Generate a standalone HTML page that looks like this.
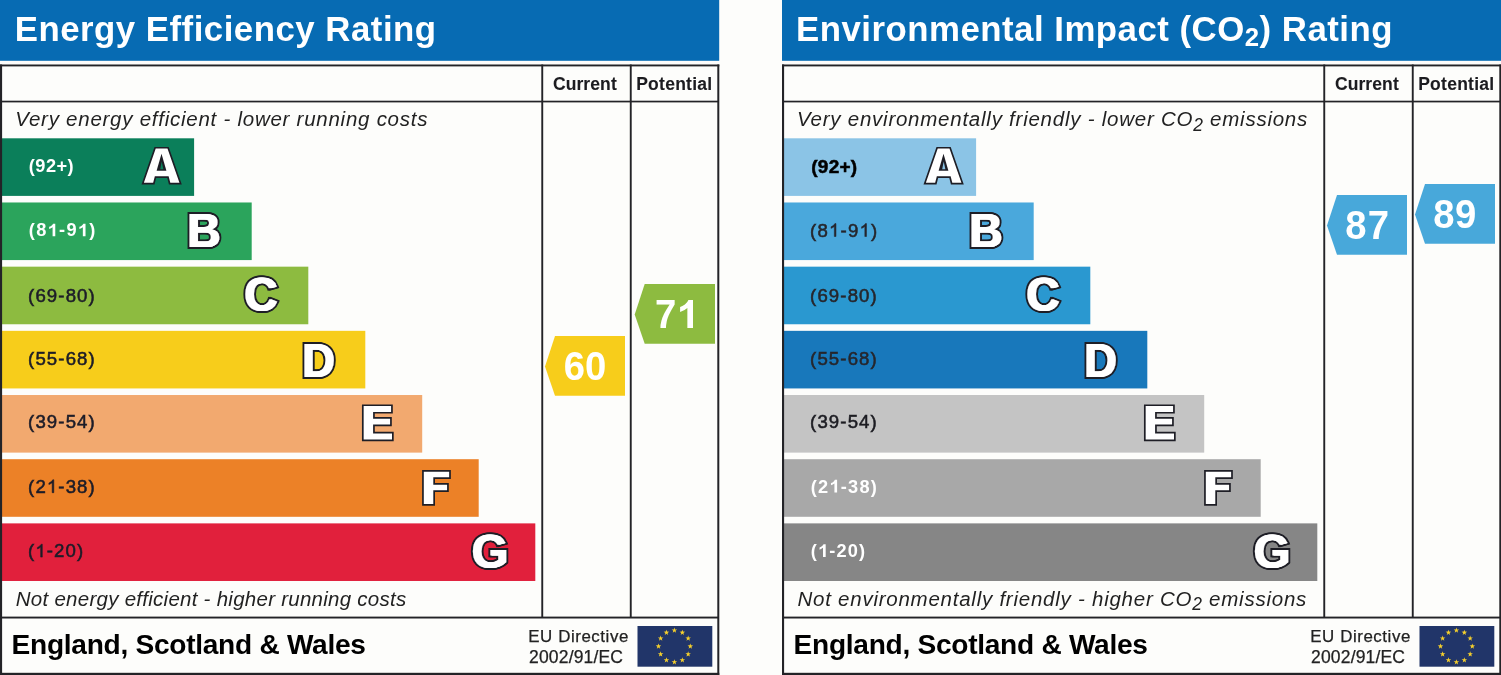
<!DOCTYPE html>
<html><head><meta charset="utf-8"><title>EPC</title>
<style>
html,body{margin:0;padding:0;background:#fdfdfb;}
body{width:1501px;height:675px;overflow:hidden;}
svg{display:block;will-change:transform;}
text{font-family:"Liberation Sans",sans-serif;white-space:pre;}
</style></head><body>
<svg width="1501" height="675" viewBox="0 0 1501 675">
<rect width="1501" height="675" fill="#fdfdfb"/>
<g transform="translate(0,0)">
<rect x="0" y="0" width="719.2" height="60.8" fill="#076bb3"/>
<rect x="1.5" y="138.30" width="192.6" height="57.6" fill="#0b7f5a"/>
<rect x="1.5" y="202.48" width="250.2" height="57.6" fill="#2ba45c"/>
<rect x="1.5" y="266.66" width="306.8" height="57.6" fill="#8dbb40"/>
<rect x="1.5" y="330.84" width="363.8" height="57.6" fill="#f7cd1b"/>
<rect x="1.5" y="395.02" width="420.7" height="57.6" fill="#f2a96f"/>
<rect x="1.5" y="459.20" width="477.2" height="57.6" fill="#ec8127"/>
<rect x="1.5" y="523.38" width="533.8" height="57.6" fill="#e1203c"/>
<g fill="#232327">
<rect x="0" y="64.5" width="719.3" height="1.9"/>
<rect x="0" y="672.8" width="719.3" height="2.2"/>
<rect x="0" y="64.5" width="2.1" height="610.5"/>
<rect x="717.3" y="64.5" width="2.0" height="610.5"/>
<rect x="541.3" y="64.5" width="1.9" height="553"/>
<rect x="629.8" y="64.5" width="1.9" height="553"/>
<rect x="0" y="100.7" width="719" height="1.7"/>
<rect x="0" y="616.6" width="719" height="1.9"/>
</g>
<path d="M155.1 147.75L168.1 147.75L180.6 183.55L169.6 183.55L167.95 177.1L155.5 177.1L153.85 183.55L142.7 183.55Z" fill="#fff" fill-rule="evenodd" stroke="#1e1e26" stroke-width="1.7" stroke-linejoin="miter"/>
<path d="M161.5 153.8L156.6 170.7L166.4 170.7Z" fill="#1e1e26"/><path d="M161.7 161.5L160.2 169.3L163.4 169.3Z" fill="#0b7f5a"/>
<g font-size="47.68" font-weight="bold" stroke-linejoin="miter" stroke-miterlimit="3"><text transform="translate(186.54,246.80) scale(0.9641,1)" fill="#1e1e26" stroke="#1e1e26" stroke-width="4.20">B</text><text transform="translate(187.44,246.80) scale(0.9641,1)" fill="#1e1e26" stroke="#1e1e26" stroke-width="4.20">B</text><text transform="translate(188.34,246.80) scale(0.9641,1)" fill="#1e1e26" stroke="#1e1e26" stroke-width="4.20">B</text><text transform="translate(186.54,246.80) scale(0.9641,1)" fill="#fff" stroke="#fff" stroke-width="0.20">B</text><text transform="translate(187.44,246.80) scale(0.9641,1)" fill="#fff" stroke="#fff" stroke-width="0.20">B</text><text transform="translate(188.34,246.80) scale(0.9641,1)" fill="#fff" stroke="#fff" stroke-width="0.20">B</text></g>
<g font-size="47.46" font-weight="bold" stroke-linejoin="miter" stroke-miterlimit="3"><text transform="translate(243.58,311.33) scale(0.9608,1)" fill="#1e1e26" stroke="#1e1e26" stroke-width="4.20">C</text><text transform="translate(244.48,311.33) scale(0.9608,1)" fill="#1e1e26" stroke="#1e1e26" stroke-width="4.20">C</text><text transform="translate(245.38,311.33) scale(0.9608,1)" fill="#1e1e26" stroke="#1e1e26" stroke-width="4.20">C</text><text transform="translate(243.58,311.33) scale(0.9608,1)" fill="#fff" stroke="#fff" stroke-width="0.20">C</text><text transform="translate(244.48,311.33) scale(0.9608,1)" fill="#fff" stroke="#fff" stroke-width="0.20">C</text><text transform="translate(245.38,311.33) scale(0.9608,1)" fill="#fff" stroke="#fff" stroke-width="0.20">C</text></g>
<g font-size="47.25" font-weight="bold" stroke-linejoin="miter" stroke-miterlimit="3"><text transform="translate(301.40,376.50) scale(0.9508,1)" fill="#1e1e26" stroke="#1e1e26" stroke-width="4.20">D</text><text transform="translate(302.30,376.50) scale(0.9508,1)" fill="#1e1e26" stroke="#1e1e26" stroke-width="4.20">D</text><text transform="translate(303.20,376.50) scale(0.9508,1)" fill="#1e1e26" stroke="#1e1e26" stroke-width="4.20">D</text><text transform="translate(301.40,376.50) scale(0.9508,1)" fill="#fff" stroke="#fff" stroke-width="0.20">D</text><text transform="translate(302.30,376.50) scale(0.9508,1)" fill="#fff" stroke="#fff" stroke-width="0.20">D</text><text transform="translate(303.20,376.50) scale(0.9508,1)" fill="#fff" stroke="#fff" stroke-width="0.20">D</text></g>
<path d="M362.8 405.25H391.95V412.75H373.95V417.85H390.95V425.35H373.95V432.55H392.85V440.35H362.8Z" fill="#fff" fill-rule="evenodd" stroke="#1e1e26" stroke-width="1.7" stroke-linejoin="miter"/>
<path d="M422.95 470.85H450.0V478.15H434.15V483.95H447.95V491.1H434.15V504.85H422.95Z" fill="#fff" fill-rule="evenodd" stroke="#1e1e26" stroke-width="1.7" stroke-linejoin="miter"/>
<g font-size="47.46" font-weight="bold" stroke-linejoin="miter" stroke-miterlimit="3"><text transform="translate(471.03,567.73) scale(0.9853,1)" fill="#1e1e26" stroke="#1e1e26" stroke-width="4.20">G</text><text transform="translate(471.93,567.73) scale(0.9853,1)" fill="#1e1e26" stroke="#1e1e26" stroke-width="4.20">G</text><text transform="translate(472.83,567.73) scale(0.9853,1)" fill="#1e1e26" stroke="#1e1e26" stroke-width="4.20">G</text><text transform="translate(471.03,567.73) scale(0.9853,1)" fill="#fff" stroke="#fff" stroke-width="0.20">G</text><text transform="translate(471.93,567.73) scale(0.9853,1)" fill="#fff" stroke="#fff" stroke-width="0.20">G</text><text transform="translate(472.83,567.73) scale(0.9853,1)" fill="#fff" stroke="#fff" stroke-width="0.20">G</text></g>
<polygon points="545.0,366.5 555.0,336.0 625.0,336.0 625.0,395.7 555.0,395.7" fill="#f7cd1b"/>
<polygon points="634.7,314.5 644.7,284.0 715.0,284.0 715.0,343.7 644.7,343.7" fill="#8dbb40"/>
<rect x="637.5" y="626" width="74.8" height="40.7" fill="#213569"/>
<polygon points="674.40,627.50 675.08,629.47 677.16,629.50 675.49,630.76 676.10,632.75 674.40,631.55 672.70,632.75 673.31,630.76 671.64,629.50 673.72,629.47" fill="#f6d02c"/><polygon points="682.35,629.63 683.03,631.60 685.11,631.63 683.44,632.89 684.05,634.88 682.35,633.68 680.65,634.88 681.26,632.89 679.59,631.63 681.67,631.60" fill="#f6d02c"/><polygon points="688.17,635.45 688.85,637.42 690.93,637.45 689.26,638.71 689.87,640.70 688.17,639.50 686.47,640.70 687.08,638.71 685.41,637.45 687.49,637.42" fill="#f6d02c"/><polygon points="690.30,643.40 690.98,645.37 693.06,645.40 691.39,646.66 692.00,648.65 690.30,647.45 688.60,648.65 689.21,646.66 687.54,645.40 689.62,645.37" fill="#f6d02c"/><polygon points="688.17,651.35 688.85,653.32 690.93,653.35 689.26,654.61 689.87,656.60 688.17,655.40 686.47,656.60 687.08,654.61 685.41,653.35 687.49,653.32" fill="#f6d02c"/><polygon points="682.35,657.17 683.03,659.14 685.11,659.17 683.44,660.43 684.05,662.42 682.35,661.22 680.65,662.42 681.26,660.43 679.59,659.17 681.67,659.14" fill="#f6d02c"/><polygon points="674.40,659.30 675.08,661.27 677.16,661.30 675.49,662.56 676.10,664.55 674.40,663.35 672.70,664.55 673.31,662.56 671.64,661.30 673.72,661.27" fill="#f6d02c"/><polygon points="666.45,657.17 667.13,659.14 669.21,659.17 667.54,660.43 668.15,662.42 666.45,661.22 664.75,662.42 665.36,660.43 663.69,659.17 665.77,659.14" fill="#f6d02c"/><polygon points="660.63,651.35 661.31,653.32 663.39,653.35 661.72,654.61 662.33,656.60 660.63,655.40 658.93,656.60 659.54,654.61 657.87,653.35 659.95,653.32" fill="#f6d02c"/><polygon points="658.50,643.40 659.18,645.37 661.26,645.40 659.59,646.66 660.20,648.65 658.50,647.45 656.80,648.65 657.41,646.66 655.74,645.40 657.82,645.37" fill="#f6d02c"/><polygon points="660.63,635.45 661.31,637.42 663.39,637.45 661.72,638.71 662.33,640.70 660.63,639.50 658.93,640.70 659.54,638.71 657.87,637.45 659.95,637.42" fill="#f6d02c"/><polygon points="666.45,629.63 667.13,631.60 669.21,631.63 667.54,632.89 668.15,634.88 666.45,633.68 664.75,634.88 665.36,632.89 663.69,631.63 665.77,631.60" fill="#f6d02c"/>
<text x="14.70" y="40.90" font-size="34.80" fill="#fff" font-weight="bold" letter-spacing="0.497">Energy Efficiency Rating</text>
<text x="15.30" y="126.20" font-size="20.50" fill="#222" font-style="italic" letter-spacing="0.743">Very energy efficient - lower running costs</text>
<text x="15.80" y="606.10" font-size="20.50" fill="#222" font-style="italic" letter-spacing="0.262">Not energy efficient - higher running costs</text>
<text x="552.90" y="90.10" font-size="17.50" fill="#1c1c20" font-weight="bold" stroke="#1c1c20" stroke-width="0.10" letter-spacing="0.105">Current</text>
<text x="636.20" y="90.10" font-size="17.50" fill="#1c1c20" font-weight="bold" stroke="#1c1c20" stroke-width="0.10" letter-spacing="0.258">Potential</text>
<text x="11.60" y="653.90" font-size="28.10" fill="#000" font-weight="bold" letter-spacing="-0.282">England, Scotland &amp; Wales</text>
<text x="528.30" y="642.10" font-size="16.90" fill="#222" stroke="#222" stroke-width="0.25" letter-spacing="0.558">EU Directive</text>
<text x="529.10" y="662.70" font-size="17.50" fill="#222" stroke="#222" stroke-width="0.25" letter-spacing="0.156">2002/91/EC</text>
<g transform="translate(28.80,171.90) scale(1.0000,1)" font-size="18.20" fill="#fff" font-weight="bold"><text x="0.00" y="0">(</text><text x="6.53" y="0">9</text><text x="17.12" y="0">2</text><text x="27.71" y="0">+</text><text x="38.80" y="0">)</text></g>
<g transform="translate(28.80,236.30) scale(1.0000,1)" font-size="18.20" fill="#fff" font-weight="bold"><text x="0.00" y="0">(</text><text x="7.38" y="0">8</text><path transform="translate(18.81,0) scale(0.00951,-0.00858)" d="M806 0H524V1059Q370 915 161 846V1102Q271 1138 400 1238Q529 1339 577 1474H806Z"/><text x="30.25" y="0">-</text><text x="37.63" y="0">9</text><path transform="translate(49.06,0) scale(0.00951,-0.00858)" d="M806 0H524V1059Q370 915 161 846V1102Q271 1138 400 1238Q529 1339 577 1474H806Z"/><text x="60.50" y="0">)</text></g>
<g transform="translate(28.10,301.50) scale(1.0000,1)" font-size="18.60" fill="#1c1c28" stroke="#1c1c28" stroke-width="0.55"><text x="0.00" y="0">(</text><text x="7.32" y="0">6</text><text x="18.78" y="0">9</text><text x="30.25" y="0">-</text><text x="37.57" y="0">8</text><text x="49.03" y="0">0</text><text x="60.50" y="0">)</text></g>
<g transform="translate(28.10,364.60) scale(1.0000,1)" font-size="18.60" fill="#1c1c28" stroke="#1c1c28" stroke-width="0.55"><text x="0.00" y="0">(</text><text x="7.32" y="0">5</text><text x="18.78" y="0">5</text><text x="30.25" y="0">-</text><text x="37.57" y="0">6</text><text x="49.03" y="0">8</text><text x="60.50" y="0">)</text></g>
<g transform="translate(28.10,428.30) scale(1.0000,1)" font-size="18.60" fill="#1c1c28" stroke="#1c1c28" stroke-width="0.55"><text x="0.00" y="0">(</text><text x="7.32" y="0">3</text><text x="18.78" y="0">9</text><text x="30.25" y="0">-</text><text x="37.57" y="0">5</text><text x="49.03" y="0">4</text><text x="60.50" y="0">)</text></g>
<g transform="translate(28.10,492.70) scale(1.0000,1)" font-size="18.60" fill="#1c1c28" stroke="#1c1c28" stroke-width="0.55"><text x="0.00" y="0">(</text><text x="7.32" y="0">2</text><path transform="translate(18.78,0) scale(0.00908,-0.00877)" d="M763 0H583V1147Q518 1085 412 1023Q307 961 223 930V1104Q374 1175 487 1276Q600 1377 647 1472H763Z" stroke-width="60.6"/><text x="30.25" y="0">-</text><text x="37.57" y="0">3</text><text x="49.03" y="0">8</text><text x="60.50" y="0">)</text></g>
<g transform="translate(28.10,557.10) scale(1.0000,1)" font-size="18.60" fill="#1c1c28" stroke="#1c1c28" stroke-width="0.55"><text x="0.00" y="0">(</text><path transform="translate(7.27,0) scale(0.00908,-0.00877)" d="M763 0H583V1147Q518 1085 412 1023Q307 961 223 930V1104Q374 1175 487 1276Q600 1377 647 1472H763Z" stroke-width="60.6"/><text x="18.69" y="0">-</text><text x="25.96" y="0">2</text><text x="37.38" y="0">0</text><text x="48.80" y="0">)</text></g>
<g transform="translate(563.75,380.10) scale(0.9500,1)" font-size="40.30" fill="#fff" font-weight="bold"><text x="0.00" y="0">6</text><text x="22.32" y="0">0</text></g>
<g transform="translate(655.05,328.00) scale(0.9500,1)" font-size="40.30" fill="#fff" font-weight="bold"><text x="0.00" y="0">7</text><path transform="translate(22.98,0) scale(0.02106,-0.01900)" d="M806 0H524V1059Q370 915 161 846V1102Q271 1138 400 1238Q529 1339 577 1474H806Z"/></g>
</g>
<g transform="translate(782,0)">
<rect x="0" y="0" width="719.2" height="60.8" fill="#076bb3"/>
<rect x="1.5" y="138.30" width="192.6" height="57.6" fill="#8bc4e6"/>
<rect x="1.5" y="202.48" width="250.2" height="57.6" fill="#4aa8dc"/>
<rect x="1.5" y="266.66" width="306.8" height="57.6" fill="#2a98d0"/>
<rect x="1.5" y="330.84" width="363.8" height="57.6" fill="#1878bb"/>
<rect x="1.5" y="395.02" width="420.7" height="57.6" fill="#c4c4c4"/>
<rect x="1.5" y="459.20" width="477.2" height="57.6" fill="#a8a8a8"/>
<rect x="1.5" y="523.38" width="533.8" height="57.6" fill="#868686"/>
<g fill="#232327">
<rect x="0" y="64.5" width="719.3" height="1.9"/>
<rect x="0" y="672.8" width="719.3" height="2.2"/>
<rect x="0" y="64.5" width="2.1" height="610.5"/>
<rect x="717.3" y="64.5" width="2.0" height="610.5"/>
<rect x="541.3" y="64.5" width="1.9" height="553"/>
<rect x="629.8" y="64.5" width="1.9" height="553"/>
<rect x="0" y="100.7" width="719" height="1.7"/>
<rect x="0" y="616.6" width="719" height="1.9"/>
</g>
<path d="M155.1 147.75L168.1 147.75L180.6 183.55L169.6 183.55L167.95 177.1L155.5 177.1L153.85 183.55L142.7 183.55Z" fill="#fff" fill-rule="evenodd" stroke="#1e1e26" stroke-width="1.7" stroke-linejoin="miter"/>
<path d="M161.5 153.8L156.6 170.7L166.4 170.7Z" fill="#1e1e26"/><path d="M161.7 161.5L160.2 169.3L163.4 169.3Z" fill="#8bc4e6"/>
<g font-size="47.68" font-weight="bold" stroke-linejoin="miter" stroke-miterlimit="3"><text transform="translate(186.54,246.80) scale(0.9641,1)" fill="#1e1e26" stroke="#1e1e26" stroke-width="4.20">B</text><text transform="translate(187.44,246.80) scale(0.9641,1)" fill="#1e1e26" stroke="#1e1e26" stroke-width="4.20">B</text><text transform="translate(188.34,246.80) scale(0.9641,1)" fill="#1e1e26" stroke="#1e1e26" stroke-width="4.20">B</text><text transform="translate(186.54,246.80) scale(0.9641,1)" fill="#fff" stroke="#fff" stroke-width="0.20">B</text><text transform="translate(187.44,246.80) scale(0.9641,1)" fill="#fff" stroke="#fff" stroke-width="0.20">B</text><text transform="translate(188.34,246.80) scale(0.9641,1)" fill="#fff" stroke="#fff" stroke-width="0.20">B</text></g>
<g font-size="47.46" font-weight="bold" stroke-linejoin="miter" stroke-miterlimit="3"><text transform="translate(243.58,311.33) scale(0.9608,1)" fill="#1e1e26" stroke="#1e1e26" stroke-width="4.20">C</text><text transform="translate(244.48,311.33) scale(0.9608,1)" fill="#1e1e26" stroke="#1e1e26" stroke-width="4.20">C</text><text transform="translate(245.38,311.33) scale(0.9608,1)" fill="#1e1e26" stroke="#1e1e26" stroke-width="4.20">C</text><text transform="translate(243.58,311.33) scale(0.9608,1)" fill="#fff" stroke="#fff" stroke-width="0.20">C</text><text transform="translate(244.48,311.33) scale(0.9608,1)" fill="#fff" stroke="#fff" stroke-width="0.20">C</text><text transform="translate(245.38,311.33) scale(0.9608,1)" fill="#fff" stroke="#fff" stroke-width="0.20">C</text></g>
<g font-size="47.25" font-weight="bold" stroke-linejoin="miter" stroke-miterlimit="3"><text transform="translate(301.40,376.50) scale(0.9508,1)" fill="#1e1e26" stroke="#1e1e26" stroke-width="4.20">D</text><text transform="translate(302.30,376.50) scale(0.9508,1)" fill="#1e1e26" stroke="#1e1e26" stroke-width="4.20">D</text><text transform="translate(303.20,376.50) scale(0.9508,1)" fill="#1e1e26" stroke="#1e1e26" stroke-width="4.20">D</text><text transform="translate(301.40,376.50) scale(0.9508,1)" fill="#fff" stroke="#fff" stroke-width="0.20">D</text><text transform="translate(302.30,376.50) scale(0.9508,1)" fill="#fff" stroke="#fff" stroke-width="0.20">D</text><text transform="translate(303.20,376.50) scale(0.9508,1)" fill="#fff" stroke="#fff" stroke-width="0.20">D</text></g>
<path d="M362.8 405.25H391.95V412.75H373.95V417.85H390.95V425.35H373.95V432.55H392.85V440.35H362.8Z" fill="#fff" fill-rule="evenodd" stroke="#1e1e26" stroke-width="1.7" stroke-linejoin="miter"/>
<path d="M422.95 470.85H450.0V478.15H434.15V483.95H447.95V491.1H434.15V504.85H422.95Z" fill="#fff" fill-rule="evenodd" stroke="#1e1e26" stroke-width="1.7" stroke-linejoin="miter"/>
<g font-size="47.46" font-weight="bold" stroke-linejoin="miter" stroke-miterlimit="3"><text transform="translate(471.03,567.73) scale(0.9853,1)" fill="#1e1e26" stroke="#1e1e26" stroke-width="4.20">G</text><text transform="translate(471.93,567.73) scale(0.9853,1)" fill="#1e1e26" stroke="#1e1e26" stroke-width="4.20">G</text><text transform="translate(472.83,567.73) scale(0.9853,1)" fill="#1e1e26" stroke="#1e1e26" stroke-width="4.20">G</text><text transform="translate(471.03,567.73) scale(0.9853,1)" fill="#fff" stroke="#fff" stroke-width="0.20">G</text><text transform="translate(471.93,567.73) scale(0.9853,1)" fill="#fff" stroke="#fff" stroke-width="0.20">G</text><text transform="translate(472.83,567.73) scale(0.9853,1)" fill="#fff" stroke="#fff" stroke-width="0.20">G</text></g>
<polygon points="545.0,225.4 555.0,195.0 625.0,195.0 625.0,254.7 555.0,254.7" fill="#48a8da"/>
<polygon points="633.0,214.4 643.0,184.0 713.0,184.0 713.0,243.7 643.0,243.7" fill="#48a8da"/>
<rect x="637.5" y="626" width="74.8" height="40.7" fill="#213569"/>
<polygon points="674.40,627.50 675.08,629.47 677.16,629.50 675.49,630.76 676.10,632.75 674.40,631.55 672.70,632.75 673.31,630.76 671.64,629.50 673.72,629.47" fill="#f6d02c"/><polygon points="682.35,629.63 683.03,631.60 685.11,631.63 683.44,632.89 684.05,634.88 682.35,633.68 680.65,634.88 681.26,632.89 679.59,631.63 681.67,631.60" fill="#f6d02c"/><polygon points="688.17,635.45 688.85,637.42 690.93,637.45 689.26,638.71 689.87,640.70 688.17,639.50 686.47,640.70 687.08,638.71 685.41,637.45 687.49,637.42" fill="#f6d02c"/><polygon points="690.30,643.40 690.98,645.37 693.06,645.40 691.39,646.66 692.00,648.65 690.30,647.45 688.60,648.65 689.21,646.66 687.54,645.40 689.62,645.37" fill="#f6d02c"/><polygon points="688.17,651.35 688.85,653.32 690.93,653.35 689.26,654.61 689.87,656.60 688.17,655.40 686.47,656.60 687.08,654.61 685.41,653.35 687.49,653.32" fill="#f6d02c"/><polygon points="682.35,657.17 683.03,659.14 685.11,659.17 683.44,660.43 684.05,662.42 682.35,661.22 680.65,662.42 681.26,660.43 679.59,659.17 681.67,659.14" fill="#f6d02c"/><polygon points="674.40,659.30 675.08,661.27 677.16,661.30 675.49,662.56 676.10,664.55 674.40,663.35 672.70,664.55 673.31,662.56 671.64,661.30 673.72,661.27" fill="#f6d02c"/><polygon points="666.45,657.17 667.13,659.14 669.21,659.17 667.54,660.43 668.15,662.42 666.45,661.22 664.75,662.42 665.36,660.43 663.69,659.17 665.77,659.14" fill="#f6d02c"/><polygon points="660.63,651.35 661.31,653.32 663.39,653.35 661.72,654.61 662.33,656.60 660.63,655.40 658.93,656.60 659.54,654.61 657.87,653.35 659.95,653.32" fill="#f6d02c"/><polygon points="658.50,643.40 659.18,645.37 661.26,645.40 659.59,646.66 660.20,648.65 658.50,647.45 656.80,648.65 657.41,646.66 655.74,645.40 657.82,645.37" fill="#f6d02c"/><polygon points="660.63,635.45 661.31,637.42 663.39,637.45 661.72,638.71 662.33,640.70 660.63,639.50 658.93,640.70 659.54,638.71 657.87,637.45 659.95,637.42" fill="#f6d02c"/><polygon points="666.45,629.63 667.13,631.60 669.21,631.63 667.54,632.89 668.15,634.88 666.45,633.68 664.75,634.88 665.36,632.89 663.69,631.63 665.77,631.60" fill="#f6d02c"/>
<text x="14.00" y="40.90" font-size="34.80" fill="#fff" font-weight="bold" letter-spacing="0.490"><tspan>Environmental Impact (CO</tspan><tspan font-size="25.75" dy="5.00">2</tspan><tspan dy="-5.00">) Rating</tspan></text>
<text x="14.90" y="126.20" font-size="20.50" fill="#222" font-style="italic" letter-spacing="0.755"><tspan>Very environmentally friendly - lower CO</tspan><tspan font-size="17.43" dy="4.30">2</tspan><tspan dy="-4.30"> emissions</tspan></text>
<text x="15.50" y="606.10" font-size="20.50" fill="#222" font-style="italic" letter-spacing="0.753"><tspan>Not environmentally friendly - higher CO</tspan><tspan font-size="17.43" dy="4.30">2</tspan><tspan dy="-4.30"> emissions</tspan></text>
<text x="552.90" y="90.10" font-size="17.50" fill="#1c1c20" font-weight="bold" stroke="#1c1c20" stroke-width="0.10" letter-spacing="0.105">Current</text>
<text x="636.20" y="90.10" font-size="17.50" fill="#1c1c20" font-weight="bold" stroke="#1c1c20" stroke-width="0.10" letter-spacing="0.258">Potential</text>
<text x="11.60" y="653.90" font-size="28.10" fill="#000" font-weight="bold" letter-spacing="-0.282">England, Scotland &amp; Wales</text>
<text x="528.30" y="642.10" font-size="16.90" fill="#222" stroke="#222" stroke-width="0.25" letter-spacing="0.558">EU Directive</text>
<text x="529.10" y="662.70" font-size="17.50" fill="#222" stroke="#222" stroke-width="0.25" letter-spacing="0.156">2002/91/EC</text>
<g transform="translate(29.30,172.80) scale(1.0000,1)" font-size="19.00" fill="#000" font-weight="bold" stroke="#000" stroke-width="0.50"><text x="0.00" y="0">(</text><text x="6.56" y="0">9</text><text x="17.37" y="0">2</text><text x="28.17" y="0">+</text><text x="39.50" y="0">)</text></g>
<g transform="translate(28.10,236.50) scale(1.0000,1)" font-size="18.60" fill="#26262c" stroke="#26262c" stroke-width="0.55"><text x="0.00" y="0">(</text><text x="7.40" y="0">8</text><path transform="translate(18.95,0) scale(0.00908,-0.00877)" d="M763 0H583V1147Q518 1085 412 1023Q307 961 223 930V1104Q374 1175 487 1276Q600 1377 647 1472H763Z" stroke-width="60.6"/><text x="30.50" y="0">-</text><text x="37.90" y="0">9</text><path transform="translate(49.45,0) scale(0.00908,-0.00877)" d="M763 0H583V1147Q518 1085 412 1023Q307 961 223 930V1104Q374 1175 487 1276Q600 1377 647 1472H763Z" stroke-width="60.6"/><text x="61.00" y="0">)</text></g>
<g transform="translate(28.10,301.50) scale(1.0000,1)" font-size="18.60" fill="#26262c" stroke="#26262c" stroke-width="0.55"><text x="0.00" y="0">(</text><text x="7.32" y="0">6</text><text x="18.78" y="0">9</text><text x="30.25" y="0">-</text><text x="37.57" y="0">8</text><text x="49.03" y="0">0</text><text x="60.50" y="0">)</text></g>
<g transform="translate(28.10,364.60) scale(1.0000,1)" font-size="18.60" fill="#26262c" stroke="#26262c" stroke-width="0.55"><text x="0.00" y="0">(</text><text x="7.32" y="0">5</text><text x="18.78" y="0">5</text><text x="30.25" y="0">-</text><text x="37.57" y="0">6</text><text x="49.03" y="0">8</text><text x="60.50" y="0">)</text></g>
<g transform="translate(28.10,428.30) scale(1.0000,1)" font-size="18.60" fill="#1c1c22" stroke="#1c1c22" stroke-width="0.55"><text x="0.00" y="0">(</text><text x="7.32" y="0">3</text><text x="18.78" y="0">9</text><text x="30.25" y="0">-</text><text x="37.57" y="0">5</text><text x="49.03" y="0">4</text><text x="60.50" y="0">)</text></g>
<g transform="translate(28.80,492.50) scale(1.0000,1)" font-size="18.20" fill="#fff" font-weight="bold"><text x="0.00" y="0">(</text><text x="7.29" y="0">2</text><path transform="translate(18.64,0) scale(0.00951,-0.00858)" d="M806 0H524V1059Q370 915 161 846V1102Q271 1138 400 1238Q529 1339 577 1474H806Z"/><text x="30.00" y="0">-</text><text x="37.30" y="0">3</text><text x="48.65" y="0">8</text><text x="60.00" y="0">)</text></g>
<g transform="translate(28.80,556.90) scale(1.0000,1)" font-size="18.20" fill="#fff" font-weight="bold"><text x="0.00" y="0">(</text><path transform="translate(7.22,0) scale(0.00951,-0.00858)" d="M806 0H524V1059Q370 915 161 846V1102Q271 1138 400 1238Q529 1339 577 1474H806Z"/><text x="18.51" y="0">-</text><text x="25.74" y="0">2</text><text x="37.02" y="0">0</text><text x="48.30" y="0">)</text></g>
<g transform="translate(563.35,239.10) scale(0.9500,1)" font-size="40.30" fill="#fff" font-weight="bold"><text x="0.00" y="0">8</text><text x="23.58" y="0">7</text></g>
<g transform="translate(651.35,228.00) scale(0.9500,1)" font-size="40.30" fill="#fff" font-weight="bold"><text x="0.00" y="0">8</text><text x="22.84" y="0">9</text></g>
</g>
</svg>
</body></html>
